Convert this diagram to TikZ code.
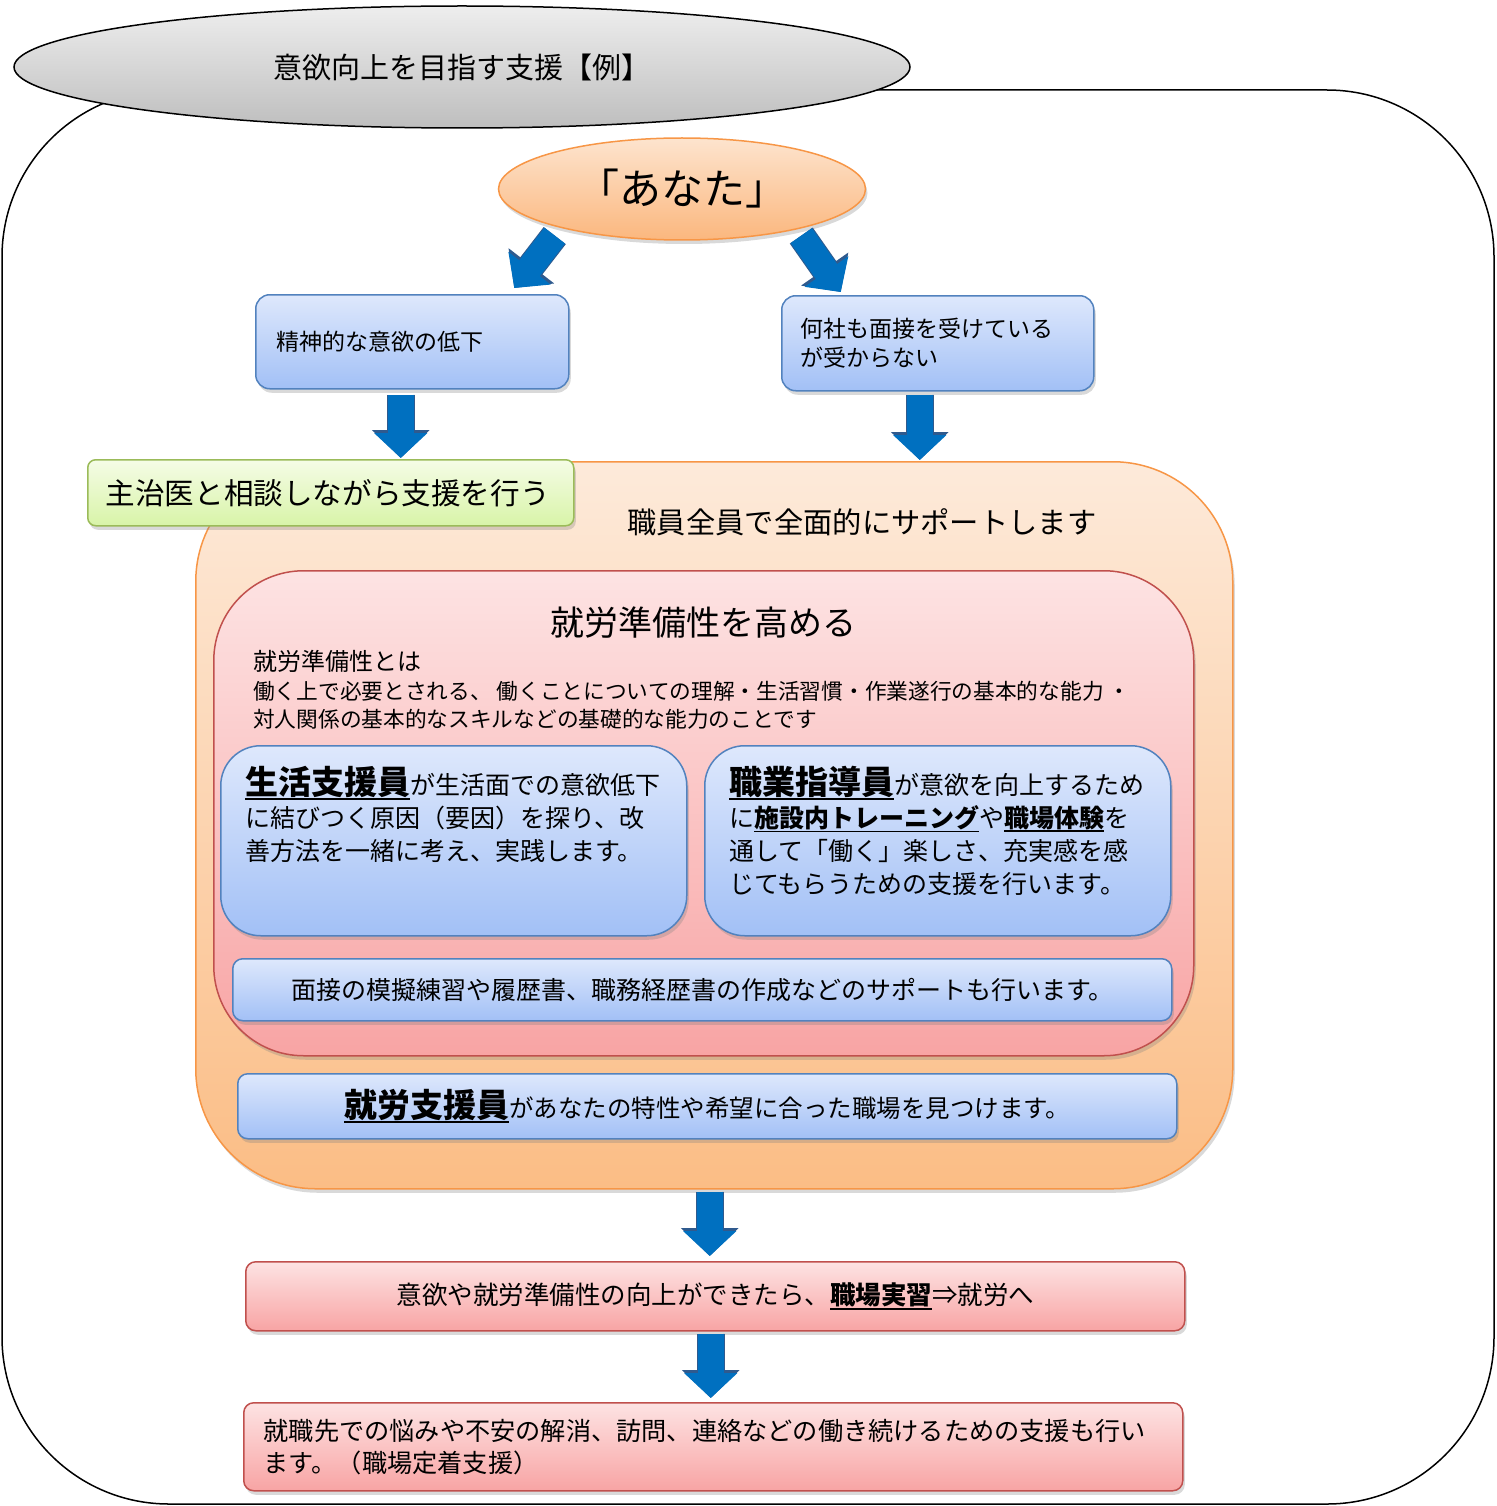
\documentclass[tikz,border=0pt]{standalone}
\usepackage{fontspec}
\setmainfont{Noto Sans CJK JP}
\usetikzlibrary{positioning,shadows,arrows.meta,shapes.geometric}

\definecolor{arrowblue}{HTML}{0070C0}
\definecolor{arrowrim}{HTML}{2F5A8E}
\definecolor{bluerim}{HTML}{5282BE}
\definecolor{bluetop}{HTML}{DEE8FC}
\definecolor{bluebot}{HTML}{A2C0F6}
\definecolor{greenrim}{HTML}{9BBB59}
\definecolor{greentop}{HTML}{F5FCE6}
\definecolor{greenbot}{HTML}{D8F4A8}
\definecolor{orangerim}{HTML}{F79646}
\definecolor{orangetop}{HTML}{FDEADA}
\definecolor{orangebot}{HTML}{FBBD85}
\definecolor{youtop}{HTML}{FDE4CE}
\definecolor{youbot}{HTML}{FBB77E}
\definecolor{redrim}{HTML}{C0504D}
\definecolor{pinktop}{HTML}{FDE3E3}
\definecolor{pinkbot}{HTML}{F8A4A4}
\definecolor{graytop}{HTML}{EEEEEE}
\definecolor{graybot}{HTML}{BEBEBE}

\newcommand\jfs[1]{\fontsize{#1}{#1}\selectfont}
\newcommand\uln[1]{\vtop{\hbox{#1}\kern0.5pt\hrule height 1.8pt}}

\begin{document}
\begin{tikzpicture}[x=1pt,y=-1pt,
    myshadow/.style = {drop shadow={shadow xshift=2pt, shadow yshift=-4pt, opacity=.3}},
    titleell/.style = {ellipse, draw=black, line width=1.5pt, inner sep=0pt,
        top color=graytop, bottom color=graybot,
        minimum width=896, minimum height=122, font=\jfs{29}},
    youell/.style = {ellipse, draw=orangerim, line width=1.5pt, inner sep=0pt,
        top color=youtop, bottom color=youbot, myshadow,
        minimum width=367, minimum height=102, font=\jfs{42}},
    bluebox/.style = {draw=bluerim, line width=1.5pt, rounded corners=14,
        top color=bluetop, bottom color=bluebot, myshadow,
        anchor=north west, inner sep=0pt},
    pinkbox/.style = {draw=redrim, line width=1.5pt, rounded corners=10,
        top color=pinktop, bottom color=pinkbot, myshadow,
        anchor=north west, inner sep=0pt},
    mytext/.style = {inner sep=0pt, align=left, anchor=north west},
    bigarrow/.style = {line width=26pt, draw=arrowblue,
        -{Triangle[width=52pt,length=25pt]},
        preaction={draw=arrowrim, line width=28pt,
            -{Triangle[width=56pt,length=28pt]}}}
                    ]
\useasboundingbox (0,0) rectangle (1496,1506);
% the frame and the title
\draw[line width=1.5pt, rounded corners=167] (2,90) rectangle (1494,1504);
\node[titleell] (title) at (462,67) {意欲向上を目指す支援【例】};
% the person and the two cases
\node[youell] (you) at (682,189) {「あなた」};
\node[bluebox, minimum width=313, minimum height=94, text width=271,
      inner xsep=21, align=left, font=\jfs{23}] (s1) at (255,294)
                {精神的な意欲の低下};
\node[bluebox, minimum width=312, minimum height=95, text width=274,
      inner xsep=19, align=left, font=\fontsize{23}{29}\selectfont] (s2) at (781,295)
                {何社も面接を受けている\\が受からない};
% the big support area
\node[draw=orangerim, line width=1.5pt, rounded corners=120,
      top color=orangetop, bottom color=orangebot, myshadow,
      anchor=north west, minimum width=1037, minimum height=727] (sup) at (195,461) {};
\node[inner sep=0pt, font=\jfs{29.3}] (staff) at (862,522) {職員全員で全面的にサポートします};
\node[draw=greenrim, line width=1.5pt, rounded corners=8,
      top color=greentop, bottom color=greenbot, myshadow,
      anchor=north west, minimum width=486, minimum height=66, text width=450,
      inner xsep=18, inner ysep=0pt, align=left, font=\jfs{29.6}] (doc) at (87,459)
                {主治医と相談しながら支援を行う};
% readiness
\node[pinkbox, rounded corners=90, minimum width=980, minimum height=485] (ready) at (213,570) {};
\node[inner sep=0pt, font=\jfs{34}] (readyt) at (703,623) {就労準備性を高める};
\node[inner sep=0pt, anchor=west, font=\jfs{24}] (rdef) at (253,661) {就労準備性とは};
\node[inner sep=0pt, anchor=west, align=left, font=\fontsize{21.7}{28}\selectfont] (rtxt) at (253,705)
                {働く上で必要とされる、 働くことについての理解・生活習慣・作業遂行の基本的な能力 ・\\対人関係の基本的なスキルなどの基礎的な能力のことです};
% the two staff boxes
\node[bluebox, rounded corners=40, minimum width=466, minimum height=190] (life) at (220,745) {};
\node[mytext, font=\fontsize{25}{33}\selectfont, below right=21pt and 25pt of life.north west] (lifet)
                {\uln{\jfs{33}\bfseries 生活支援員}が生活面での意欲低下\\に結びつく原因（要因）を探り、改\\善方法を一緒に考え、実践します。};
\node[bluebox, rounded corners=40, minimum width=466, minimum height=190] (guide) at (704,745) {};
\node[mytext, font=\fontsize{25}{33}\selectfont, below right=21pt and 25pt of guide.north west] (guidet)
                {\uln{\jfs{33}\bfseries 職業指導員}が意欲を向上するため\\に\uln{\bfseries 施設内トレーニング}や\uln{\bfseries 職場体験}を\\通して「働く」楽しさ、充実感を感\\じてもらうための支援を行います。};
\node[bluebox, rounded corners=10, minimum width=939, minimum height=62, font=\jfs{25}] (mock) at (232,958)
                {面接の模擬練習や履歴書、職務経歴書の作成などのサポートも行います。};
\node[bluebox, rounded corners=10, minimum width=939, minimum height=65, font=\jfs{24.5}] (job) at (237,1073)
                {\uln{\jfs{33}\bfseries 就労支援員}があなたの特性や希望に合った職場を見つけます。};
% the steps at the bottom
\node[pinkbox, minimum width=939, minimum height=69, font=\jfs{25.5}] (prac) at (245,1261)
                {意欲や就労準備性の向上ができたら、\uln{\bfseries 職場実習}⇒就労へ};
\node[pinkbox, minimum width=939, minimum height=88, text width=899, inner xsep=20,
      align=left, font=\fontsize{25.2}{32}\selectfont] (stay) at (243,1402)
                {就職先での悩みや不安の解消、訪問、連絡などの働き続けるための支援も行い\\ます。（職場定着支援）};
% the arrows
\draw[bigarrow] ([shift={(3,10)}]you.south west) -- ([shift={(102,-6)}]s1.north);
\draw[bigarrow] ([shift={(-11,10)}]you.south east) -- ([shift={(-97,-3)}]s2.north);
\draw[bigarrow] ([shift={(-11.5,5)}]s1.south) -- ([shift={(70,-1)}]doc.north);
\draw[bigarrow] ([shift={(-18,3)}]s2.south) -- ([shift={(205.5,-1)}]sup.north);
\draw[bigarrow] ([shift={(-4.5,2)}]sup.south) -- ([shift={(-5.5,-5)}]prac.north);
\draw[bigarrow] ([shift={(-4.5,2)}]prac.south) -- ([shift={(-2.5,-4)}]stay.north);
\end{tikzpicture}
\end{document}
